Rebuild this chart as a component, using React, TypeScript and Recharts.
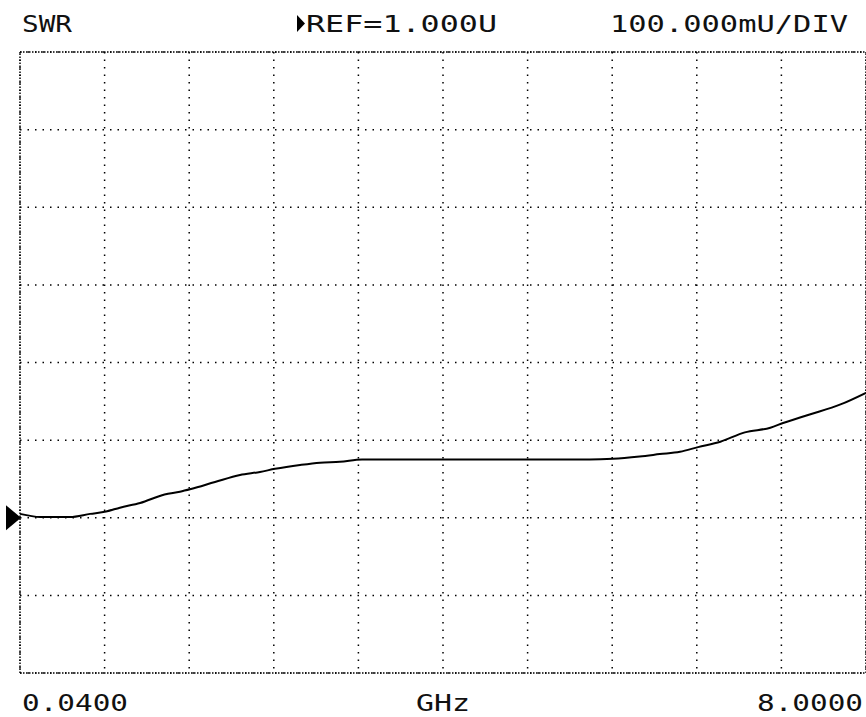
import { LineChart, Line, XAxis, YAxis, CartesianGrid, ReferenceLine, ReferenceDot } from 'recharts'

// sweep frequency, GHz
const freq = [
  0.04, 0.23, 0.51, 0.7, 0.85, 0.98, 1.17, 1.4, 1.545, 1.649, 1.875, 2.11, 2.298, 2.44,
  2.675, 2.863, 3.05, 3.258, 3.6, 4.09, 4.5, 4.84, 5.2, 5.4, 5.62, 5.87, 6.06, 6.25,
  6.42, 6.63, 6.86, 7.1, 7.22, 7.47, 7.76, 8.0,
]
// measured SWR
const swr = [
  1.005, 1.001, 1.001, 1.005, 1.008, 1.013, 1.019, 1.03, 1.0335, 1.037, 1.046, 1.055, 1.059, 1.063,
  1.068, 1.071, 1.072, 1.075, 1.075, 1.075, 1.075, 1.075, 1.075, 1.075, 1.076, 1.079, 1.082, 1.085,
  1.091, 1.098, 1.11, 1.116, 1.122, 1.133, 1.146, 1.161,
]

const xTicks = [0.836, 1.632, 2.428, 3.224, 4.02, 4.816, 5.612, 6.408, 7.204]
const yTicks = [0.9, 1.0, 1.1, 1.2, 1.3, 1.4, 1.5]

const refLevel = 1.0
const title = 'SWR'
const refText = 'REF=1.000U'
const scaleText = '100.000mU/DIV'
const startText = '0.0400'
const unitText = 'GHz'
const stopText = '8.0000'

const data = freq.map((f, i) => ({ f, swr: swr[i] }))

const font = { fontFamily: '"DejaVu Sans Mono", monospace', fontSize: 23, fill: '#111' }

function Marker(props: any) {
  const { cx, cy } = props
  return <polygon points={`${cx - 14},${cy - 12.5} ${cx + 1},${cy} ${cx - 14},${cy + 12.5}`} fill="#000" />
}

export default function App() {
  return (
    <div style={{ position: 'absolute', left: 0, top: 0, width: 866, height: 717, background: '#fff' }}>
      <LineChart width={866} height={717} data={data} margin={{ top: 52, right: 0, bottom: 44, left: 20 }}>
        <XAxis dataKey="f" type="number" domain={[0.04, 8]} ticks={xTicks} hide />
        <YAxis type="number" domain={[0.8, 1.6]} ticks={yTicks} hide />
        <CartesianGrid stroke="#000" strokeWidth={1.5} strokeDasharray="1.5 6" />
        <ReferenceLine x={0.04} stroke="#000" strokeWidth={1.5} strokeDasharray="1.5 1.5" />
        <ReferenceLine x={8} stroke="#000" strokeWidth={1.5} strokeDasharray="1.5 1.5" />
        <ReferenceLine y={0.8} stroke="#000" strokeWidth={1.5} strokeDasharray="1.5 1.5" />
        <ReferenceLine y={1.6} stroke="#000" strokeWidth={1.5} strokeDasharray="1.5 1.5" />
        <Line type="monotone" dataKey="swr" stroke="#000" strokeWidth={2} dot={false} isAnimationActive={false} />
        <ReferenceDot x={0.04} y={refLevel} ifOverflow="visible" shape={Marker} />
      </LineChart>
      <svg width={866} height={717} style={{ position: 'absolute', left: 0, top: 0, pointerEvents: 'none' }}>
        <text x={22} y={32} textLength={50} lengthAdjust="spacingAndGlyphs" {...font}>{title}</text>
        <polygon points="297,15 305,23.5 297,32" fill="#000" />
        <text x={306} y={32} textLength={191} lengthAdjust="spacingAndGlyphs" {...font}>{refText}</text>
        <text x={610} y={32} textLength={238} lengthAdjust="spacingAndGlyphs" {...font}>{scaleText}</text>
        <text x={22} y={711} textLength={106} lengthAdjust="spacingAndGlyphs" {...font}>{startText}</text>
        <text x={416} y={711} textLength={54} lengthAdjust="spacingAndGlyphs" {...font}>{unitText}</text>
        <text x={757} y={711} textLength={106} lengthAdjust="spacingAndGlyphs" {...font}>{stopText}</text>
      </svg>
    </div>
  )
}
